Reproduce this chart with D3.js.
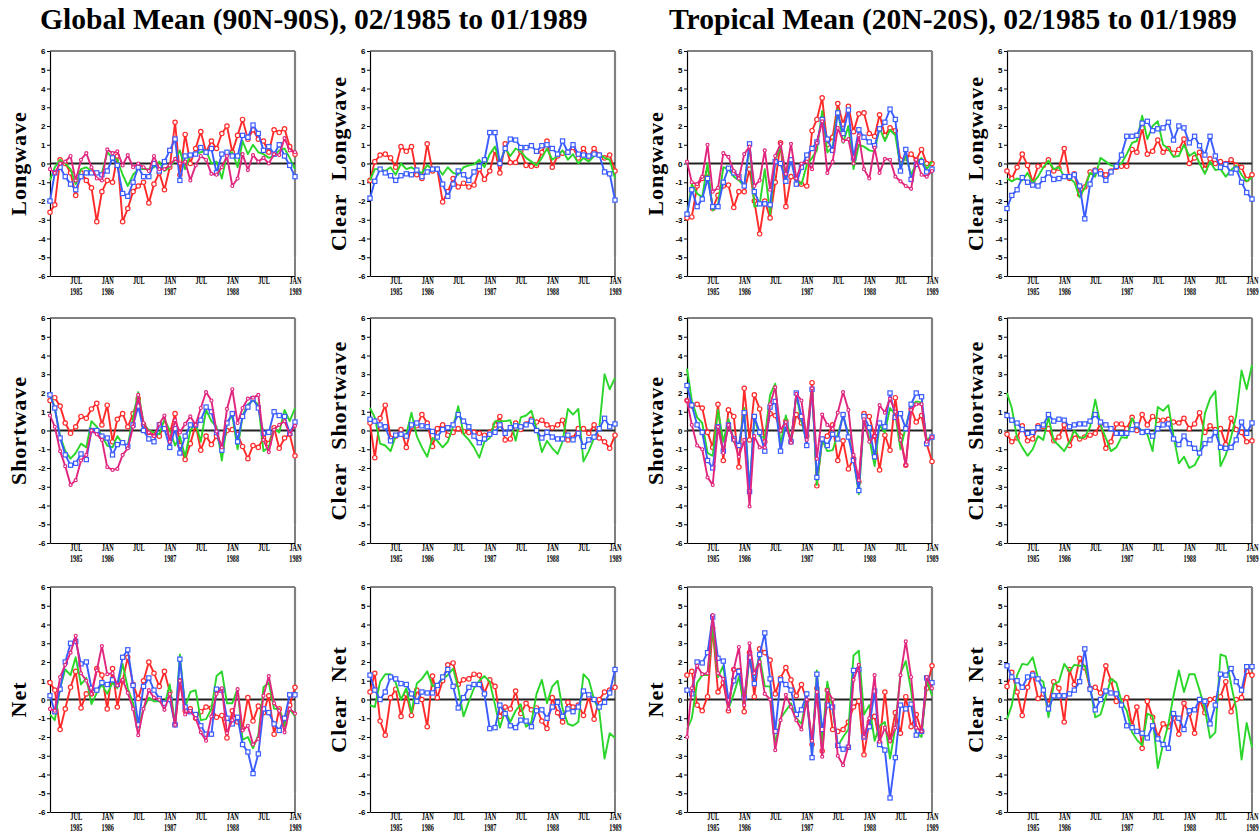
<!DOCTYPE html>
<html>
<head>
<meta charset="utf-8">
<script src="https://cdn.jsdelivr.net/npm/d3@7"></script>
<style>
  body { margin: 0; background: #fff; }
  text { fill: #000; }
</style>
</head>
<body>
<svg id="chart" width="1260" height="836"></svg>
<script>
// monthly anomalies, 02/1985 .. 01/1989
const months = d3.range(48).map(i => new Date(1985, 1 + i, 1));
const tickDates = [new Date(1985, 6, 1), new Date(1986, 0, 1), new Date(1986, 6, 1), new Date(1987, 0, 1),
                   new Date(1987, 6, 1), new Date(1988, 0, 1), new Date(1988, 6, 1), new Date(1989, 0, 1)];
const tickMonth = ['JUL', 'JAN', 'JUL', 'JAN', 'JUL', 'JAN', 'JUL', 'JAN'];
const tickYear = ['1985', '1986', '', '1987', '', '1988', '', '1989'];
const yTicks = d3.range(-6, 7);
const titles = ['Global Mean (90N-90S), 02/1985 to 01/1989', 'Tropical Mean (20N-20S), 02/1985 to 01/1989'];

// Global longwave
const glwRed = [-2.6,-2.2,0.2,0.0,-0.5,-1.7,-0.5,-0.9,-1.3,-3.1,-1.5,-0.9,-1.0,0.4,-3.1,-2.4,-1.5,-1.2,-1.0,-2.1,-1.1,-0.5,-1.4,-0.2,2.2,-0.6,1.55,0.0,0.8,1.7,0.6,1.2,0.8,1.6,2.0,0.6,1.5,2.35,1.3,1.8,1.3,1.2,0.6,1.8,1.65,1.85,0.9,0.5];
const glwGreen = [-0.9,-0.2,0.2,0.0,-0.3,-1.1,-0.3,-0.2,-0.4,-0.5,-0.5,0.6,0.3,0.2,-0.6,-1.2,-0.6,-0.3,-0.3,-0.3,-0.2,0.1,-0.4,-0.2,0.2,0.7,-0.3,0.5,0.5,0.6,0.7,0.0,0.1,-0.8,0.5,0.6,-0.2,1.2,0.5,1.0,0.6,0.5,0.3,0.4,0.7,0.8,0.3,-0.3];
const glwBlue = [-2.0,-0.5,-0.2,-0.7,-1.1,-1.4,-0.7,-0.5,-0.5,-0.5,-0.6,-0.4,0.3,-0.1,-1.6,-1.75,-1.0,-0.2,-0.7,-0.7,0.0,-0.4,0.1,0.7,1.3,-0.9,0.4,0.45,0.5,0.85,0.6,0.8,-0.5,0.5,0.6,0.4,0.4,1.5,1.4,2.05,1.6,0.7,0.9,0.5,1.0,0.4,-0.1,-0.7];
const glwMagenta = [-0.3,-0.5,0.0,0.1,0.4,-0.9,0.2,0.55,-0.2,-0.8,-0.9,0.75,0.55,0.65,-0.1,0.45,-0.2,0.0,-0.2,-0.4,0.4,-0.3,-0.3,-0.1,0.25,0.0,0.1,-0.9,-0.1,0.4,0.2,-0.55,-0.6,-0.2,0.4,-1.2,-0.8,0.5,-0.35,0.45,0.1,0.3,0.0,0.5,0.45,1.35,0.7,0.6];

// Global clear longwave
const gclwRed = [-0.9,0.1,0.45,0.5,0.3,-0.2,0.9,0.65,0.9,-0.6,-0.8,1.05,-0.4,-0.3,-2.05,-1.5,-0.8,-1.25,-1.05,-1.25,-1.15,-0.3,-0.85,-0.4,0.7,-0.5,1.05,0.05,0.05,0.65,-0.1,-0.15,-0.1,0.6,1.2,-0.2,0.4,0.55,0.6,0.85,0.3,0.8,0.35,0.8,0.45,0.3,0.45,-0.4];
const gclwGreen = [-0.9,-0.3,-0.3,-0.4,-0.2,-0.6,0.0,-0.3,-0.2,-0.4,-0.5,-0.1,-0.3,-0.2,-0.6,-0.2,-0.5,-0.6,-0.2,-0.1,-0.05,0.2,-0.2,0.5,0.9,0.0,0.8,0.4,0.8,0.65,0.3,0.1,-0.1,0.3,0.8,0.2,0.4,0.7,0.2,0.5,0.0,0.3,0.1,0.4,0.5,0.3,0.2,-0.8];
const gclwBlue = [-1.85,-0.95,-0.3,-0.5,-0.65,-0.9,-0.65,-0.55,-0.6,-0.35,-0.7,-0.45,-0.3,-0.3,-1.1,-1.75,-1.1,-0.4,-0.6,-0.9,-0.45,-0.15,0.2,1.65,1.65,0.0,0.8,1.3,1.25,0.85,0.85,0.95,0.65,0.95,1.0,0.8,0.5,1.2,0.6,1.0,0.5,0.45,0.4,0.5,0.45,-0.45,-0.55,-1.95];

// Tropical longwave
const tlwRed = [-2.9,-2.85,-1.2,-0.8,-0.5,-2.4,-1.7,-1.2,-1.15,-2.35,-1.5,-1.5,-0.3,-2.0,-3.75,-2.0,-2.9,-1.0,1.1,-2.3,-0.7,-0.8,-1.1,-1.2,1.75,2.35,3.5,1.0,1.4,3.2,2.1,3.05,1.7,2.65,2.7,1.6,1.45,2.6,1.5,1.9,1.75,0.2,0.3,0.5,0.2,0.75,0.0,0.0];
const tlwGreen = [-2.8,-1.1,-1.6,-1.8,0.0,-2.5,-2.2,-0.2,-0.3,-0.7,-0.9,-1.2,1.0,-2.3,-2.2,-0.3,-2.7,0.2,0.9,-0.7,0.3,-0.9,-1.1,-0.1,0.3,0.7,2.8,0.6,0.9,2.9,1.1,2.0,-0.3,1.0,0.9,0.7,0.65,1.9,1.2,1.8,1.5,-0.2,0.4,-0.6,0.0,0.3,-0.3,0.1];
const tlwBlue = [-2.7,-1.4,-2.3,-1.9,-0.8,-2.3,-2.3,-1.0,-0.25,-0.5,-0.7,-1.2,1.05,-1.5,-2.15,-2.15,-2.2,0.1,0.0,-0.95,0.2,-1.1,-0.2,0.45,0.8,1.15,2.35,1.3,0.7,2.7,1.6,2.85,0.3,1.8,1.4,1.15,0.95,1.85,2.2,2.9,2.35,-0.4,0.75,-0.85,-0.05,0.1,-0.45,-0.3];
const tlwMagenta = [0.1,-1.0,-1.1,-0.7,1.0,-1.5,-1.3,0.55,0.35,-0.4,-0.8,0.5,0.9,-1.2,-0.9,0.7,-1.4,0.4,1.05,-0.55,1.05,-0.8,0.0,0.1,-0.3,1.1,2.25,-0.5,0.1,1.9,1.2,1.3,0.0,1.5,-0.3,-0.8,0.85,-0.5,0.25,0.2,-0.7,-0.95,-1.2,-1.35,0.2,-0.6,-0.7,-0.4];

// Tropical clear longwave
const tclwRed = [-0.4,-0.8,-0.2,0.5,-0.1,-1.0,-0.15,-0.1,0.2,-0.4,-0.25,0.8,-0.8,-0.55,-1.65,-1.25,-0.45,-0.35,-0.4,-0.6,-0.4,-0.2,-0.15,-0.15,0.75,0.6,1.9,0.5,0.65,1.25,0.6,0.8,0.55,0.75,1.3,0.0,0.3,0.6,-0.3,0.25,0.0,0.1,0.0,0.2,-0.1,-0.2,-0.85,-0.6];
const tclwGreen = [-0.8,-0.95,-0.8,-0.9,-0.5,-1.05,-0.7,-0.2,0.15,-0.3,-0.2,-0.7,-0.8,-1.0,-1.8,-1.3,-0.5,-0.7,0.3,0.1,-0.1,-0.15,0.0,0.5,1.1,1.2,2.55,1.3,2.0,2.25,1.0,0.8,0.35,0.4,1.0,0.4,0.6,0.0,-0.55,0.1,-0.35,-0.3,-0.7,-0.35,-0.1,-0.6,-0.95,-0.75];
const tclwBlue = [-2.4,-1.7,-1.4,-0.75,-1.0,-1.15,-1.2,-0.85,-0.5,-0.85,-0.8,-0.7,-0.7,-0.6,-1.2,-2.95,-1.1,-0.4,-0.55,-0.9,-0.45,-0.15,0.45,1.45,1.45,1.5,2.15,2.25,1.75,1.85,1.9,2.2,1.25,2.0,1.9,1.1,1.45,0.95,0.45,1.45,0.4,-0.2,-0.05,-0.5,-0.3,-1.0,-1.55,-1.9];

// Global shortwave
const gswRed = [1.6,1.75,1.3,0.4,-0.15,0.2,0.75,0.65,1.15,1.45,0.3,1.35,-0.6,0.6,0.9,0.2,0.9,1.7,0.3,-0.1,-0.25,-0.3,0.3,-0.15,0.9,-0.8,-1.55,-0.7,0.3,-1.05,-0.3,-0.75,-0.3,-0.9,0.0,0.05,-0.2,-0.85,-1.5,-0.8,-0.9,-0.4,-0.7,0.15,-0.95,-0.4,-0.2,-1.35];
const gswGreen = [2.0,1.2,-0.3,-1.1,-1.5,-1.2,-0.7,-0.9,0.5,0.2,-0.3,-0.8,-0.9,-0.3,-0.7,-0.8,0.7,2.05,0.4,0.0,-0.1,-0.2,0.6,0.0,-0.8,-0.3,-1.4,0.0,0.4,-0.6,1.1,0.5,0.2,-1.6,0.4,0.8,-1.0,0.8,1.4,1.6,1.4,-1.1,-0.9,0.1,-0.1,1.1,0.5,1.2];
const gswBlue = [1.9,1.2,-0.4,-1.3,-1.85,-1.75,-1.25,-1.55,0.0,0.0,-0.3,-0.4,-1.3,-0.75,-0.65,-0.85,0.3,1.3,0.0,-0.45,-0.6,0.3,0.1,-0.9,0.1,-1.2,-0.3,0.3,0.3,0.55,1.25,1.0,-0.1,-1.05,0.4,0.9,-0.6,0.75,1.25,1.7,1.2,-0.15,-0.1,1.0,0.8,0.75,-0.15,0.45];
const gswMagenta = [0.8,0.2,-1.1,-1.9,-2.9,-2.65,-1.6,-1.3,0.0,-0.2,-0.5,-1.95,-2.1,-2.05,-1.3,-0.95,0.2,1.9,0.4,-0.1,-0.3,0.35,0.8,-0.6,0.55,-0.1,0.35,0.75,0.3,1.2,2.05,1.6,-0.05,-0.9,1.15,2.2,0.4,1.2,1.7,1.75,1.9,-0.5,-1.15,0.05,0.3,0.5,-0.2,0.25];

// Global clear shortwave
const gcswRed = [0.4,-1.45,0.65,1.35,-0.4,-0.3,0.05,-0.9,0.2,0.25,0.85,0.4,-0.85,0.1,0.3,-0.25,-0.1,0.1,-0.05,-0.1,-0.1,-0.15,-0.25,-0.1,0.3,0.75,-0.5,-0.45,0.4,0.05,0.35,0.6,0.45,0.55,0.3,0.15,0.3,0.55,-0.5,-0.4,0.1,0.1,-0.15,0.3,-0.4,-0.6,-0.95,-0.25];
const gcswGreen = [1.2,0.7,-0.7,-0.8,-1.1,-0.3,-0.3,-0.2,0.95,-0.3,-0.9,-1.4,-0.4,-0.55,-0.9,-0.6,0.2,1.3,-0.2,-0.5,-0.9,-1.45,-0.6,-0.4,0.5,0.5,0.5,0.55,-0.55,0.7,0.8,1.05,0.1,-1.15,-0.55,-0.95,-1.25,-0.6,1.15,0.85,1.15,-1.65,-1.1,-0.4,0.1,3.0,2.2,2.8];
const gcswBlue = [0.6,0.5,0.3,0.2,-0.55,-0.25,-0.2,-0.3,0.3,0.4,0.25,0.2,-0.05,-0.35,0.05,0.15,0.3,0.85,0.5,0.2,-0.3,-0.65,-0.45,-0.2,-0.1,0.3,-0.15,0.15,0.25,0.2,0.3,0.5,0.0,-0.4,-0.1,-0.35,-0.45,-0.45,-0.25,-0.5,-0.15,-0.85,-0.5,-0.35,0.1,0.65,0.2,0.35];

// Tropical shortwave
const tswRed = [1.6,1.3,1.4,1.2,-0.1,-0.9,1.4,-1.6,1.1,0.75,-1.95,2.25,-0.5,1.9,1.15,-0.6,0.9,0.8,0.0,0.5,-0.6,0.85,0.4,-0.3,2.55,-2.95,-0.5,-0.3,0.3,-1.6,-0.55,-2.05,-1.5,-2.75,0.9,0.75,-0.3,-2.1,-0.25,-1.05,1.75,-0.3,-1.85,1.15,0.45,0.8,-0.7,-1.65];
const tswGreen = [3.3,1.6,0.7,0.4,-1.2,-1.35,1.1,-0.6,0.6,-0.6,-0.9,1.2,-3.2,0.7,-0.3,-0.4,1.9,2.5,-0.8,0.8,-0.6,1.9,0.5,-0.6,2.3,-2.9,-0.5,-1.1,-1.05,-0.2,0.8,-0.2,-1.5,-3.4,0.6,-0.4,-1.9,0.3,-0.1,1.2,0.85,-1.0,0.2,1.3,1.55,1.5,-0.5,-0.3];
const tswBlue = [2.4,1.35,0.3,-0.1,-1.6,-2.0,0.2,-1.1,0.3,-0.45,-0.8,0.95,-3.25,0.75,-0.1,-1.1,1.25,1.55,-1.1,0.3,-0.6,2.0,0.75,-0.8,2.2,-2.5,-0.45,-0.8,-0.2,-0.45,0.85,-0.35,-1.6,-3.2,0.75,0.15,-1.4,0.4,0.2,2.0,0.7,0.9,0.1,1.4,2.0,1.8,-0.7,-0.35];
const tswMagenta = [1.6,0.3,-0.8,-1.0,-2.5,-2.9,0.2,-1.2,0.3,-0.5,-1.4,-0.5,-4.05,-0.3,-0.9,-0.9,1.4,2.3,0.0,0.45,-0.65,1.95,1.6,-0.5,2.25,-1.5,0.85,0.3,0.1,0.95,2.05,1.1,-1.3,-2.65,0.6,-0.6,-0.3,1.35,0.95,1.7,1.0,-0.5,-1.85,1.1,1.4,1.4,-0.6,-0.35];

// Tropical clear shortwave
const tcswRed = [-0.2,-0.6,-0.4,0.25,-0.55,-0.45,0.25,0.2,0.1,-0.55,-0.35,0.3,-0.8,-0.2,-0.45,-0.35,-0.25,-0.15,0.35,-0.95,-0.6,0.35,0.35,0.1,0.7,0.0,0.85,0.3,0.75,0.55,0.55,0.6,0.45,0.4,0.65,0.1,0.35,0.95,-0.1,0.25,0.05,0.1,-0.75,0.65,0.05,-0.1,-0.6,-0.55];
const tcswGreen = [2.0,1.2,-0.4,-0.9,-1.35,-1.0,-0.3,-0.5,0.7,-0.55,-0.8,-1.1,-0.6,0.0,-0.4,-0.35,0.2,1.65,0.3,-0.4,-1.1,-0.9,-0.35,-0.4,0.65,0.2,0.0,-0.2,-1.1,1.25,1.05,1.35,-0.3,-1.75,-1.4,-2.0,-1.85,-1.35,0.9,1.7,2.1,-1.9,-1.3,-0.35,0.8,3.2,2.2,3.5];
const tcswBlue = [0.8,0.55,0.4,0.05,-0.15,-0.1,0.15,0.3,0.85,0.5,0.6,0.55,0.2,0.3,0.35,0.35,0.5,0.85,0.45,0.3,0.1,-0.15,-0.15,-0.15,0.05,0.3,-0.1,-0.05,-0.3,0.1,0.3,0.35,-0.45,-0.75,-0.3,-0.7,-0.95,-1.2,-0.7,-0.5,-0.1,-0.9,-0.95,-0.9,-0.5,0.45,-0.15,0.4];

// Global net
const gnetRed = [0.9,0.5,-1.6,-0.5,0.65,1.5,-0.45,0.3,0.3,1.65,1.3,-0.5,1.65,-0.4,1.0,2.25,0.8,0.05,1.0,2.0,1.4,0.7,1.5,0.4,-1.35,1.0,-0.6,-0.5,-1.0,-0.65,-0.4,-0.45,-0.95,-0.85,-2.05,-0.6,-1.2,-1.55,0.1,-1.15,-0.35,-0.7,0.2,-1.85,-0.5,-1.3,-0.3,0.65];
const gnetGreen = [-0.8,-1.1,0.6,1.6,1.3,2.25,0.8,1.15,-0.25,0.35,0.8,0.3,0.9,0.6,1.9,0.6,-0.2,-1.5,-0.5,0.1,-0.1,-0.1,-0.3,0.8,-1.35,2.4,-0.4,0.4,0.5,-1.1,-1.05,-0.5,1.25,1.5,-0.2,-0.2,0.6,-2.15,-2.0,-2.6,-1.9,0.65,0.9,-0.5,-0.5,-1.4,-0.5,-0.9];
const gnetBlue = [0.2,-0.65,0.55,2.0,3.0,3.1,1.9,2.0,0.6,0.5,0.9,0.8,1.05,0.8,2.25,2.65,0.75,-1.35,0.7,1.15,0.5,0.05,-0.2,0.0,-1.35,2.15,-0.4,-0.65,-0.8,-1.4,-1.85,-1.85,0.55,0.5,-1.0,-1.3,-0.95,-2.4,-2.8,-3.95,-2.9,-0.5,-0.7,-1.3,-1.65,-1.0,0.25,0.25];
const gnetMagenta = [-0.5,-0.6,1.2,1.85,2.5,3.4,1.4,1.0,0.3,1.55,2.85,1.35,1.4,0.75,1.05,0.35,-0.5,-1.9,-0.5,0.5,0.1,0.0,-0.55,0.3,-1.35,1.0,-0.8,-0.6,-1.0,-1.75,-2.2,-0.9,0.3,0.6,-1.8,-1.1,0.55,-1.65,-1.4,-2.4,-2.1,0.2,1.25,-0.2,-0.6,-1.75,-0.5,-0.75];

// Global clear net
const gcnetRed = [0.4,1.4,-1.15,-1.9,0.1,0.55,-0.9,0.3,-0.85,0.5,0.0,-1.45,1.25,0.1,1.0,1.85,1.95,0.8,1.05,1.1,1.35,1.3,0.35,1.05,0.7,-0.9,-0.4,-0.5,0.45,-0.75,-0.2,-0.55,-0.45,-1.15,-1.55,0.1,-0.7,-1.2,-0.15,-0.4,-0.3,-0.85,0.15,-1.05,0.0,0.4,0.5,0.65];
const gcnetGreen = [-0.3,-0.4,0.95,1.35,1.35,0.9,0.0,0.6,-0.7,0.85,1.1,1.5,0.7,0.8,1.1,1.3,1.65,0.6,-0.9,-0.1,0.6,1.0,1.25,0.95,-0.3,-1.5,-0.6,-1.2,-0.6,-0.25,-1.45,-1.2,0.3,1.05,-0.2,0.7,1.0,-0.5,-1.3,-1.4,-1.2,1.35,1.05,0.0,-0.6,-3.15,-1.8,-2.05];
const gcnetBlue = [1.3,0.5,0.0,0.4,1.2,1.1,0.85,0.8,0.3,-0.1,0.4,0.35,0.35,0.75,1.2,1.6,0.7,-0.45,0.1,0.65,0.8,0.8,0.3,-1.55,-1.5,-0.3,-0.75,-1.4,-1.5,-1.1,-1.15,-1.45,-0.6,-0.55,-1.0,-0.4,-0.15,-0.9,-0.5,-0.65,-0.4,0.45,0.25,0.0,-0.4,-0.15,0.35,1.6];

// Tropical net
const tnetRed = [1.3,1.5,-0.3,-0.6,0.15,3.8,0.4,0.9,-0.6,1.6,1.55,-0.65,2.5,0.15,2.7,2.5,2.1,0.3,1.15,1.7,1.05,0.2,0.8,-0.05,-2.4,0.6,-2.75,0.5,-1.6,-1.7,-1.6,-1.2,-0.4,-0.1,-2.95,-1.2,-0.9,-2.3,0.4,-2.2,-0.7,-1.8,0.15,-1.45,-0.8,-1.7,0.6,1.8];
const tnetGreen = [-1.6,-1.0,0.9,1.3,1.3,3.9,1.2,1.8,-0.5,0.3,1.2,-0.3,2.3,1.3,2.3,0.7,0.7,-2.4,-1.0,-0.6,-0.2,-1.0,-1.3,0.2,-2.9,1.55,-2.3,0.95,-0.5,-2.5,-2.0,-1.6,2.35,2.6,-0.8,-0.3,-2.2,-1.4,-1.2,-3.15,-1.5,1.4,2.05,0.5,-1.8,-2.0,1.05,0.2];
const tnetBlue = [0.5,0.3,2.0,1.95,2.5,4.4,2.2,2.05,-0.05,1.0,1.5,0.1,2.25,0.85,2.4,3.55,1.1,-1.7,1.05,0.8,0.5,-0.8,-0.55,0.3,-3.1,1.35,-1.6,-0.3,-0.4,-2.45,-2.65,-2.55,1.55,1.6,-2.0,-1.45,0.45,-2.4,-2.7,-5.25,-3.1,-0.3,-0.5,-0.25,-1.9,-1.7,1.15,0.9];
const tnetMagenta = [-2.0,0.6,1.8,1.35,1.4,4.5,1.4,1.1,-0.5,1.6,2.8,-0.3,3.0,1.4,2.0,0.3,0.0,-2.7,-1.1,0.25,-0.4,-1.1,-1.6,0.0,-2.2,0.4,-3.05,0.5,0.0,-3.0,-3.5,-2.5,1.05,1.85,-2.0,-1.0,1.3,-2.25,-1.5,-2.2,-1.5,1.3,3.1,1.2,-1.5,-1.7,1.2,0.6];

// Tropical clear net
const tcnetRed = [0.7,1.45,0.4,-0.85,0.65,1.4,0.05,0.3,-0.25,0.95,0.6,-1.2,1.6,0.8,2.2,1.7,0.6,0.65,0.35,1.8,1.0,-0.1,-0.1,0.1,-1.4,-0.4,-2.6,-0.1,-0.95,-2.0,-1.3,-1.45,-1.0,-1.85,-0.2,-0.75,-1.8,0.0,-0.7,0.0,0.05,0.15,0.95,-0.65,0.0,0.1,1.5,1.3];
const tcnetGreen = [-1.05,-0.3,1.3,1.9,1.85,2.25,1.15,0.95,-0.95,0.8,0.95,1.9,1.5,1.85,1.8,1.8,0.7,-0.95,-0.8,0.15,1.1,0.9,-0.1,-0.6,-1.75,-2.15,-2.45,-0.75,-0.9,-3.65,-2.4,-1.3,0.2,1.55,0.4,1.35,1.35,0.5,-0.5,-2.05,-1.75,2.4,2.3,0.8,-0.5,-3.2,-1.25,-2.55];
const tcnetBlue = [1.8,1.2,1.0,0.65,1.2,1.3,1.1,0.5,-0.5,0.2,0.2,0.2,0.3,0.5,0.95,2.7,0.55,-0.55,0.0,0.45,0.35,0.3,-0.3,-1.4,-1.5,-1.7,-1.8,-2.05,-1.4,-2.1,-2.4,-2.6,-0.75,-1.0,-1.6,-0.6,-0.55,0.0,-0.1,-1.3,-0.3,1.35,1.3,1.65,0.95,0.5,1.75,1.75];

const styles = {
  red: { color: '#ff2a2a', marker: 'circle', r: 2.2 },
  green: { color: '#2ad62a', marker: null },
  blue: { color: '#3a5cff', marker: 'square', r: 2.1 },
  magenta: { color: '#e0267e', marker: 'circle', r: 1.5 }
};

const panels = [
  { col: 0, row: 0, label: 'Longwave', series: { red: glwRed, green: glwGreen, blue: glwBlue, magenta: glwMagenta } },
  { col: 1, row: 0, label: 'Clear\u00a0\u00a0Longwave', series: { red: gclwRed, green: gclwGreen, blue: gclwBlue } },
  { col: 2, row: 0, label: 'Longwave', series: { red: tlwRed, green: tlwGreen, blue: tlwBlue, magenta: tlwMagenta } },
  { col: 3, row: 0, label: 'Clear\u00a0\u00a0Longwave', series: { red: tclwRed, green: tclwGreen, blue: tclwBlue } },
  { col: 0, row: 1, label: 'Shortwave', series: { red: gswRed, green: gswGreen, blue: gswBlue, magenta: gswMagenta } },
  { col: 1, row: 1, label: 'Clear\u00a0\u00a0Shortwave', series: { red: gcswRed, green: gcswGreen, blue: gcswBlue } },
  { col: 2, row: 1, label: 'Shortwave', series: { red: tswRed, green: tswGreen, blue: tswBlue, magenta: tswMagenta } },
  { col: 3, row: 1, label: 'Clear\u00a0\u00a0Shortwave', series: { red: tcswRed, green: tcswGreen, blue: tcswBlue } },
  { col: 0, row: 2, label: 'Net', series: { red: gnetRed, green: gnetGreen, blue: gnetBlue, magenta: gnetMagenta } },
  { col: 1, row: 2, label: 'Clear\u00a0\u00a0Net', series: { red: gcnetRed, green: gcnetGreen, blue: gcnetBlue } },
  { col: 2, row: 2, label: 'Net', series: { red: tnetRed, green: tnetGreen, blue: tnetBlue, magenta: tnetMagenta } },
  { col: 3, row: 2, label: 'Clear\u00a0\u00a0Net', series: { red: tcnetRed, green: tcnetGreen, blue: tcnetBlue } }
];

const colLeft = [50, 370, 687, 1007];
const rowTop = [51, 318, 587];
const W = 245, H = 225;

const svg = d3.select('#chart');

// titles
svg.selectAll('.title')
  .data(titles)
  .enter()
  .append('text')
  .attr('class', 'title')
  .attr('x', (d, i) => i === 0 ? 40 : 669)
  .attr('y', 29)
  .attr('font-family', '"Liberation Serif", "Times New Roman", serif')
  .attr('font-weight', 'bold')
  .attr('font-size', 29.6)
  .text(d => d);

function drawPanel(p) {
  const left = colLeft[p.col], top = rowTop[p.row];
  const g = svg.append('g').attr('transform', `translate(${left},${top})`);

  const x = d3.scaleTime().domain([months[0], months[months.length - 1]]).range([0, W]);
  const y = d3.scaleLinear().domain([-6, 6]).range([H, 0]);

  // gray frame on top and right (right side turns black near the bottom)
  g.append('line').attr('x1', 0).attr('x2', W).attr('y1', 0).attr('y2', 0)
    .attr('stroke', '#808080').attr('stroke-width', 2.2);
  g.append('line').attr('x1', W).attr('x2', W).attr('y1', 0).attr('y2', y(-5))
    .attr('stroke', '#808080').attr('stroke-width', 2.2);
  g.append('line').attr('x1', W).attr('x2', W).attr('y1', y(-5)).attr('y2', H)
    .attr('stroke', '#000').attr('stroke-width', 1);

  // y axis
  const yAxis = g.append('g')
    .call(d3.axisLeft(y).tickValues(yTicks).tickSize(3).tickSizeOuter(0).tickPadding(1.5).tickFormat(d3.format('d')));
  yAxis.select('.domain').attr('stroke', '#000').attr('stroke-width', 1.2);
  yAxis.selectAll('.tick line').attr('stroke', '#000');
  yAxis.selectAll('.tick text')
    .attr('font-family', '"Liberation Sans", Arial, sans-serif')
    .attr('font-weight', 'bold')
    .attr('font-size', 8)
    .text(d => d < 0 ? '-' + Math.abs(d) : d);

  // x axis
  const xAxis = g.append('g').attr('transform', `translate(0,${H})`)
    .call(d3.axisBottom(x).tickValues(tickDates).tickSize(0).tickSizeOuter(0).tickFormat((d, i) => tickMonth[i]));
  xAxis.select('.domain').attr('stroke', '#000').attr('stroke-width', 1.2);
  xAxis.selectAll('.tick text')
    .attr('y', 8.5).attr('dy', null)
    .attr('transform', 'scale(0.62,1)')
    .attr('font-family', '"Liberation Serif", "Times New Roman", serif')
    .attr('font-weight', 'bold')
    .attr('font-size', 10);
  xAxis.selectAll('.tick').append('text')
    .attr('y', 19.5)
    .attr('text-anchor', 'middle')
    .attr('transform', 'scale(0.62,1)')
    .attr('fill', '#000')
    .attr('font-family', '"Liberation Serif", "Times New Roman", serif')
    .attr('font-weight', 'bold')
    .attr('font-size', 10)
    .text((d, i) => tickYear[i]);

  // zero line
  g.append('line').attr('x1', 0).attr('x2', W).attr('y1', y(0)).attr('y2', y(0))
    .attr('stroke', '#222').attr('stroke-width', 1.8);

  // series
  const line = d3.line().x((d, i) => x(months[i])).y(d => y(d));
  Object.entries(p.series).forEach(([name, values]) => {
    const s = styles[name];
    g.append('path')
      .datum(values)
      .attr('fill', 'none')
      .attr('stroke', s.color)
      .attr('stroke-width', 1.9)
      .attr('stroke-linejoin', 'round')
      .attr('d', line);
    if (s.marker === 'circle') {
      g.selectAll(null).data(values).enter().append('circle')
        .attr('cx', (d, i) => x(months[i]))
        .attr('cy', d => y(d))
        .attr('r', s.r)
        .attr('fill', '#fff')
        .attr('stroke', s.color)
        .attr('stroke-width', 1.2);
    } else if (s.marker === 'square') {
      g.selectAll(null).data(values).enter().append('rect')
        .attr('x', (d, i) => x(months[i]) - s.r)
        .attr('y', d => y(d) - s.r)
        .attr('width', s.r * 2)
        .attr('height', s.r * 2)
        .attr('fill', '#fff')
        .attr('stroke', s.color)
        .attr('stroke-width', 1.2);
    }
  });

  // row label
  svg.append('text')
    .attr('transform', `translate(${left - 32},${top + H / 2}) rotate(-90)`)
    .attr('text-anchor', 'middle')
    .attr('dominant-baseline', 'central')
    .attr('font-family', '"Liberation Serif", "Times New Roman", serif')
    .attr('font-weight', 'bold')
    .attr('font-size', 22)
    .attr('letter-spacing', 1)
    .text(p.label);
}

panels.forEach(drawPanel);
</script>
</body>
</html>
